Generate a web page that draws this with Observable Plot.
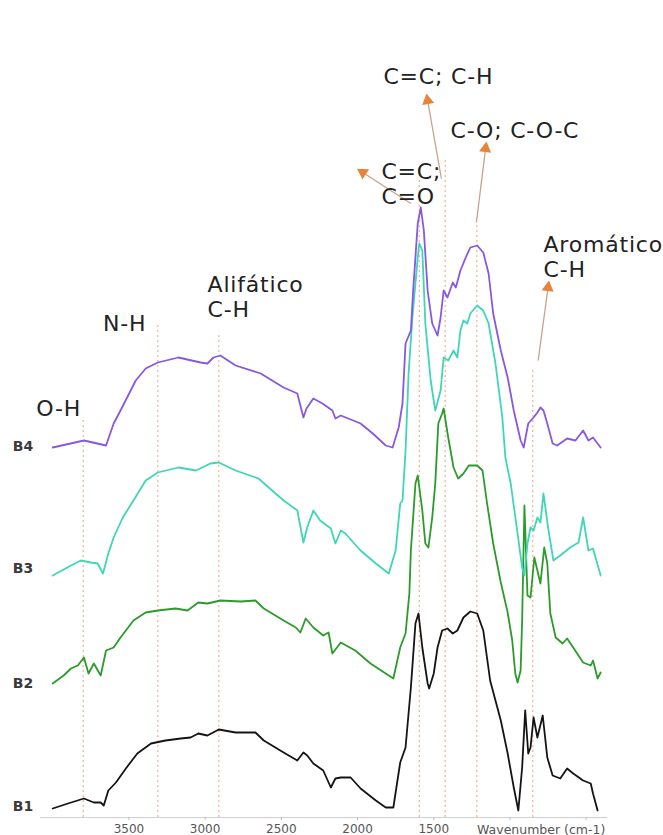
<!DOCTYPE html>
<html>
<head>
<meta charset="utf-8">
<script src="https://cdn.jsdelivr.net/npm/d3@7"></script>
<script src="https://cdn.jsdelivr.net/npm/@observablehq/plot@0.6"></script>
<style>
  html, body { margin: 0; padding: 0; background: #fff; }
  #chart svg { display: block; }
</style>
</head>
<body>
<div id="chart"></div>
<script>
// ---- Data (wavenumber cm-1, stacked intensity units) ----
const sampleNames = ["B1", "B2", "B3", "B4"];
const sampleColors = ["#141414", "#2b9b2b", "#3fd6b6", "#8758e2"];
const sampleLabelLevel = [11, 134, 249, 371];

const B1 = [[4000,9],[3900,14],[3795,19],[3730,15],[3685,15],[3665,12],[3635,27],[3585,35],[3520,49],[3445,64],[3355,74],[3260,77],[3160,79],[3095,80],[3045,84],[2985,82],[2910,88],[2800,85],[2670,85],[2615,77],[2485,65],[2395,57],[2355,65],[2330,62],[2290,54],[2225,47],[2175,30],[2145,39],[2110,40],[2045,40],[1980,29],[1880,17],[1815,10],[1765,10],[1720,55],[1685,70],[1650,130],[1620,194],[1600,204],[1575,170],[1540,134],[1530,129],[1500,144],[1475,170],[1445,187],[1410,189],[1375,184],[1345,187],[1305,200],[1260,206],[1215,204],[1175,187],[1130,137],[1060,97],[1015,64],[975,30],[945,7],[920,50],[900,107],[880,64],[865,70],[845,100],[820,80],[785,102],[755,60],[720,42],[670,39],[625,49],[585,44],[520,37],[470,34],[455,24],[425,7]];

const B2 = [[4000,134],[3928,142],[3880,149],[3835,152],[3795,160],[3765,144],[3730,154],[3685,142],[3650,167],[3600,170],[3555,180],[3470,197],[3390,205],[3310,207],[3195,209],[3115,207],[3045,215],[2985,214],[2900,217],[2765,216],[2670,217],[2615,209],[2485,197],[2405,190],[2375,185],[2340,199],[2290,190],[2225,182],[2190,185],[2165,164],[2110,175],[2015,167],[1915,154],[1815,144],[1765,139],[1720,170],[1685,184],[1660,224],[1650,267],[1620,334],[1605,342],[1575,307],[1555,274],[1535,270],[1510,300],[1490,334],[1470,394],[1445,404],[1435,409],[1405,380],[1370,350],[1340,339],[1305,344],[1270,352],[1215,352],[1180,347],[1150,314],[1110,274],[1060,235],[1015,205],[985,177],[965,144],[950,135],[930,147],[920,197],[905,312],[885,222],[865,220],[840,260],[820,247],[800,234],[775,270],[755,254],[735,204],[700,180],[655,174],[625,179],[585,170],[520,155],[470,152],[455,157],[425,139],[405,145]];

const B3 = [[4000,242],[3880,252],[3815,257],[3750,255],[3705,254],[3670,244],[3635,264],[3600,280],[3540,300],[3470,317],[3390,337],[3310,345],[3175,350],[3060,347],[2965,354],[2910,355],[2800,347],[2650,339],[2485,317],[2395,307],[2355,275],[2330,290],[2290,307],[2245,297],[2175,289],[2145,274],[2110,287],[2080,284],[1980,267],[1880,254],[1795,244],[1750,267],[1720,314],[1705,317],[1685,367],[1665,444],[1640,500],[1605,560],[1595,574],[1575,567],[1555,494],[1520,437],[1490,407],[1455,427],[1435,460],[1405,457],[1370,467],[1345,460],[1325,487],[1305,497],[1280,494],[1260,504],[1215,512],[1175,507],[1140,494],[1095,454],[1050,400],[1030,360],[995,334],[950,284],[920,250],[905,242],[885,274],[865,290],[845,287],[820,300],[800,295],[780,324],[750,290],[715,257],[670,262],[605,270],[550,275],[520,300],[485,267],[455,269],[405,242]];

const B4 = [[4000,370],[3795,377],[3650,372],[3600,394],[3555,407],[3455,437],[3390,449],[3310,455],[3175,460],[3030,455],[2985,454],[2945,460],[2900,462],[2800,452],[2635,444],[2485,430],[2395,424],[2355,400],[2335,409],[2290,419],[2230,414],[2165,407],[2145,399],[2110,402],[1980,394],[1900,384],[1815,372],[1770,370],[1730,390],[1705,414],[1685,474],[1650,487],[1635,527],[1605,594],[1585,610],[1565,587],[1540,527],[1510,494],[1475,482],[1455,500],[1435,527],[1410,520],[1375,535],[1355,530],[1325,547],[1290,560],[1260,570],[1215,572],[1175,565],[1140,544],[1110,504],[1060,467],[1015,440],[975,407],[930,377],[910,370],[880,394],[845,400],[820,405],[800,410],[780,407],[755,394],[720,374],[690,372],[625,379],[570,377],[520,387],[485,377],[455,380],[405,370]];

const spectra = [B1, B2, B3, B4];

// Band markers (dotted verticals)
const bandWave = [3800, 3310, 2910, 1595, 1425, 1217, 850];
const bandTop = [397, 492, 485, 637, 657, 592, 447];

// Band labels
const bandLabels = ["O-H", "N-H", "Alifático\nC-H", "C=C;\nC=O", "C=C; C-H", "C-O; C-O-C", "Aromático\nC-H"];
const bandLabelWave = [3961, 3528, 2984, 1843, 1830, 1390, 780];
const bandLabelLevel = [409, 494, 521, 634, 741, 687, 561];
const bandLabelCentered = [true, true, false, false, false, false, false];

// Arrows
const arrowFromWave = [1650, 1450, 1220, 815];
const arrowFromLevel = [614, 639, 595, 457];
const arrowToWave = [1965, 1540, 1160, 750];
const arrowToLevel = [645, 717, 669, 530];

// Axis
const xTicks = [3500, 3000, 2500, 2000, 1500, 1000, 500];
const xTickLabels = ["3500", "3000", "2500", "2000", "1500", "", ""];
const xTitle = "Wavenumber (cm-1)";
const xDomain = [4080, 360];
const yDomain = [0, 817];

// ---- Build tables ----
const lineRows = spectra.flatMap((s, i) => s.map(([w, v]) => ({sample: sampleNames[i], w, v})));
const bands = bandWave.map((w, i) => ({w, top: bandTop[i]}));
const labels = bandLabels.map((t, i) => ({t, w: bandLabelWave[i], v: bandLabelLevel[i], c: bandLabelCentered[i]}));
const W = 663, H = 835, mL = 40, mR = 56, mT = 0, mB = 18;
const kx = (W - mL - mR) / (xDomain[0] - xDomain[1]);
const ky = (H - mT - mB) / (yDomain[1] - yDomain[0]);
const arrows = arrowFromWave.map((w, i) => {
  const dx = -(arrowToWave[i] - w) * kx;
  const dyUp = (arrowToLevel[i] - arrowFromLevel[i]) * ky;
  return {x1: w, y1: arrowFromLevel[i], x2: arrowToWave[i], y2: arrowToLevel[i],
          angle: Math.atan2(dx, dyUp) * 180 / Math.PI};
});
const tickLabelMap = new Map(xTicks.map((t, i) => [t, xTickLabels[i]]));

const font = "DejaVu Sans, sans-serif";

const chart = Plot.plot({
  width: W, height: H,
  marginLeft: mL, marginRight: mR, marginTop: mT, marginBottom: mB,
  style: {fontFamily: font, background: "#fff", overflow: "visible"},
  x: {domain: xDomain},
  y: {domain: yDomain, axis: null},
  color: {domain: sampleNames, range: sampleColors},
  marks: [
    Plot.ruleY([0], {stroke: "#cfcfcf", strokeWidth: 1}),
    Plot.axisX({ticks: xTicks, tickFormat: d => tickLabelMap.get(d), tickSize: 3, tickPadding: 4,
                fontSize: 12, color: "#555", stroke: "#bbb", label: null}),
    Plot.text([xTitle], {x: 795, y: -12, text: d => d, fontSize: 12.5, fill: "#555", fontFamily: font}),
    Plot.ruleX(bands, {x: "w", y1: 0, y2: "top", stroke: "#e9a47c", strokeWidth: 1, strokeDasharray: "2,3"}),
    Plot.line(lineRows, {x: "w", y: "v", z: "sample", stroke: "sample", strokeWidth: 1.8, strokeLinejoin: "round"}),
    Plot.text(sampleNames, {x: 4262, y: (d, i) => sampleLabelLevel[i], text: d => d, textAnchor: "start",
                fontSize: 14, fontWeight: "bold", fill: "#3a3a3a", fontFamily: font}),
    Plot.link(arrows, {x1: "x1", y1: "y1", x2: "x2", y2: "y2", stroke: "#c9a189", strokeWidth: 1.3}),
    Plot.dot(arrows, {x: "x2", y: "y2", symbol: "triangle", r: 4.5, fill: "#e6843c", stroke: "none", rotate: "angle"}),
    Plot.text(labels.filter(d => d.c), {x: "w", y: "v", text: "t", textAnchor: "middle", lineAnchor: "middle",
                lineHeight: 1.13, fontSize: 22, fill: "#222", fontFamily: font}),
    Plot.text(labels.filter(d => !d.c), {x: "w", y: "v", text: "t", textAnchor: "start", lineAnchor: "middle",
                lineHeight: 1.13, fontSize: 22, fill: "#222", fontFamily: font})
  ]
});
chart.querySelectorAll('g[font-size="22"]').forEach(g => g.setAttribute("letter-spacing", "0.8"));
document.getElementById("chart").appendChild(chart);
</script>
</body>
</html>
